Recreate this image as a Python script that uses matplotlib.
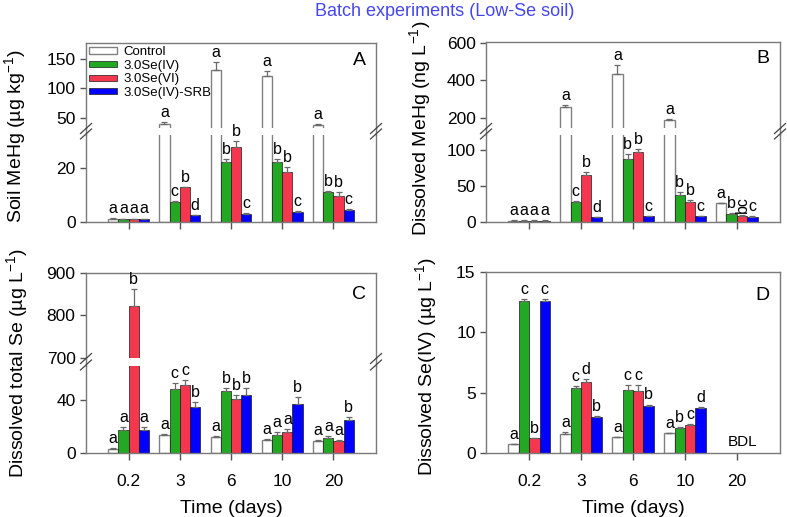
import numpy as np
import matplotlib
matplotlib.use("Agg")
import matplotlib.pyplot as plt
from matplotlib.lines import Line2D

plt.rcParams['font.family'] = ['Liberation Sans', 'DejaVu Sans']
plt.rcParams['mathtext.fontset'] = 'custom'
plt.rcParams['mathtext.rm'] = 'Liberation Sans'
plt.rcParams['mathtext.it'] = 'Liberation Sans:italic'

days = ['0.2', '3', '6', '10', '20']
series = ['Control', '3.0Se(IV)', '3.0Se(VI)', '3.0Se(IV)-SRB']

# panel A - soil MeHg
a_vals = [[1.3, 40, 132, 122, 38],
          [1.2, 7.4, 22.2, 22.2, 11.1],
          [1.2, 12.9, 28.1, 18.5, 9.7],
          [1.2, 2.5, 3.0, 3.85, 4.5]]
a_errs = [[0.1, 2, 13, 7, 2],
          [0.1, 0.3, 1.1, 1.2, 0.4],
          [0.1, 0.2, 2.0, 2.0, 1.3],
          [0.1, 0.2, 0.2, 0.2, 0.2]]
a_lets = [['a', 'a', 'a', 'a', 'a'],
          ['a', 'c', 'b', 'b', 'b'],
          ['a', 'b', 'b', 'b', 'b'],
          ['a', 'd', 'c', 'c', 'c']]

# panel B - dissolved MeHg
b_vals = [[2, 258, 435, 188, 26],
          [2, 28, 87, 37, 11],
          [2, 65, 98, 28.5, 9],
          [2, 7, 8.4, 8, 7.5]]
b_errs = [[0.5, 10, 45, 5, 1],
          [0.3, 1, 8, 5, 1],
          [0.3, 5, 4, 2, 0.5],
          [0.3, 0.5, 0.5, 0.5, 0.5]]
b_lets = [['a', 'a', 'a', 'a', 'a'],
          ['a', 'c', 'b', 'b', 'b'],
          ['a', 'b', 'b', 'b', 'bc'],
          ['a', 'd', 'c', 'c', 'c']]

# panel C - dissolved total Se
c_vals = [[2.8, 13.7, 11.7, 9.6, 8.9],
          [17.2, 48.4, 46.8, 13.7, 11.4],
          [822, 51.2, 41, 15.5, 8.9],
          [17.2, 34.7, 43.8, 37.2, 25]]
c_errs = [[0.5, 0.5, 1, 0.5, 0.5],
          [2, 4.5, 2, 2, 1],
          [39, 4, 3, 2.5, 1],
          [2, 4, 5, 5, 2]]
c_lets = [['a', 'a', 'a', 'a', 'a'],
          ['a', 'c', 'b', 'a', 'a'],
          ['b', 'c', 'b', 'a', 'a'],
          ['a', 'b', 'b', 'b', 'b']]

# panel D - dissolved Se(IV), day 20 below detection limit
d_vals = [[0.7, 1.55, 1.28, 1.6, np.nan],
          [12.6, 5.4, 5.2, 2.05, np.nan],
          [1.2, 5.9, 5.1, 2.3, np.nan],
          [12.6, 2.97, 3.9, 3.7, np.nan]]
d_errs = [[0.05, 0.15, 0.03, 0.03, 0],
          [0.2, 0.12, 0.45, 0.1, 0],
          [0.05, 0.25, 0.5, 0.08, 0],
          [0.2, 0.1, 0.1, 0.1, 0]]
d_lets = [['a', 'a', 'a', 'a', ''],
          ['c', 'c', 'c', 'b', ''],
          ['b', 'd', 'c', 'c', ''],
          ['c', 'b', 'b', 'd', '']]

colors = ['white', '#22a822', '#f5364f', '#0000ff']
edges = ['#808080', '#1a1a1a', '#1a1a1a', '#1a1a1a']
W = 0.2
x = np.arange(len(days))
spine_c = '#7a7a7a'
TICK = 12.5
LET = 11.5


def style(ax):
    ax.patch.set_visible(False)
    for s in ax.spines.values():
        s.set_color(spine_c)
        s.set_linewidth(1.0)
    ax.tick_params(axis='y', direction='out', length=4, width=1, color='#555555',
                   labelsize=TICK, right=False)
    ax.tick_params(axis='x', direction='out', length=5, width=1, color='#555555',
                   top=False)
    ax.set_xlim(-0.83, 4.83)


def draw_bars(ax, vals, errs):
    for i in range(4):
        xs = x + (i - 1.5) * W
        v = np.array(vals[i], dtype=float)
        e = np.array(errs[i], dtype=float)
        ax.bar(xs, v, W, color=colors[i], edgecolor=edges[i],
               linewidth=1.0 if i == 0 else 0.5, label=series[i], zorder=2)
        ax.errorbar(xs, v, yerr=[np.zeros_like(e), e], fmt='none', ecolor='#6a6a6a',
                    elinewidth=0.9, capsize=2.5, capthick=0.9, zorder=3)


def put_letters(axes_list, vals, errs, lets):
    # axes_list sorted low -> high; choose axis by where the bar top lands
    for i in range(4):
        for j in range(len(days)):
            t = lets[i][j]
            if not t:
                continue
            top = vals[i][j] + errs[i][j]
            ax = axes_list[0]
            for a in axes_list:
                lo, hi = a.get_ylim()
                if top >= lo:
                    ax = a
            rot = 90 if len(t) > 1 else 0
            ax.annotate(t, (x[j] + (i - 1.5) * W, top), xytext=(0, 1.5),
                        textcoords='offset points', ha='center', va='bottom',
                        fontsize=LET, rotation=rot, zorder=4, annotation_clip=False)


def broken(fig, left, width, lo_box, hi_box, lo_lim, hi_lim, lo_ticks, hi_ticks,
           vals, errs, lets):
    ax_lo = fig.add_axes([left, lo_box[0], width, lo_box[1]])
    ax_hi = fig.add_axes([left, hi_box[0], width, hi_box[1]])
    for ax, lim, tk in ((ax_lo, lo_lim, lo_ticks), (ax_hi, hi_lim, hi_ticks)):
        style(ax)
        draw_bars(ax, vals, errs)
        ax.set_ylim(*lim)
        ax.set_yticks(tk)
    ax_lo.set_zorder(2)
    ax_lo.spines['top'].set_visible(False)
    ax_hi.spines['bottom'].set_visible(False)
    ax_hi.tick_params(axis='x', bottom=False, labelbottom=False)
    ax_lo.set_xticks(x)
    # join spines across the gap and draw the break marks
    y0 = lo_box[0] + lo_box[1]
    y1 = hi_box[0]
    for xx in (left, left + width):
        fig.add_artist(Line2D([xx, xx], [y0, y1], color=spine_c, lw=1.0))
        for yy in (y0 + 1.0 / 517, y1 - 0.5 / 517):
            dx, dy = 5.5 / 787, 5.0 / 517
            fig.add_artist(Line2D([xx - dx, xx + dx], [yy - dy, yy + dy],
                                  color='#444444', lw=0.9))
    put_letters([ax_lo, ax_hi], vals, errs, lets)
    return ax_lo, ax_hi


fig = plt.figure(figsize=(7.87, 5.17), dpi=100)

LA, WA = 86 / 787, 290 / 787
LB, WB = 486 / 787, 294 / 787

# A
a_lo, a_hi = broken(fig, LA, WA, (0.5706, 0.1683), (0.7524, 0.1644),
                    (0, 32.4), (32.5, 177.5), [0, 20], [50, 100, 150],
                    a_vals, a_errs, a_lets)
a_lo.set_xticklabels([])
a_hi.legend(loc='upper left', bbox_to_anchor=(0.0, 1.0), frameon=False,
            fontsize=9.5, handlelength=2.1, handleheight=0.35, handletextpad=0.5,
            labelspacing=0.12, borderaxespad=0.0, borderpad=0.25)
a_hi.text(0.965, 0.9, 'A', transform=a_hi.transAxes, ha='right', va='top', fontsize=14)

# B
b_lo, b_hi = broken(fig, LB, WB, (0.5706, 0.1683), (0.7524, 0.1669),
                    (0, 121), (145, 605), [0, 50, 100], [200, 400, 600],
                    b_vals, b_errs, b_lets)
b_lo.set_xticklabels([])
b_hi.text(0.965, 0.9, 'B', transform=b_hi.transAxes, ha='right', va='top', fontsize=14)

# C
c_lo, c_hi = broken(fig, LA, WA, (0.1244, 0.1677), (0.3075, 0.165),
                    (0, 65.8), (699, 900), [0, 40], [700, 800, 900],
                    c_vals, c_errs, c_lets)
c_lo.set_xticklabels(days, fontsize=TICK)
c_lo.tick_params(axis='x', pad=10)
c_lo.set_xlabel('Time (days)', fontsize=14, labelpad=8)
c_hi.text(0.965, 0.84, 'C', transform=c_hi.transAxes, ha='right', va='top', fontsize=14)

# D
d_ax = fig.add_axes([LB, 0.1244, WB, 0.349])
style(d_ax)
draw_bars(d_ax, d_vals, d_errs)
d_ax.set_ylim(0, 15)
d_ax.set_yticks([0, 5, 10, 15])
d_ax.set_xticks(x)
d_ax.set_xticklabels(days, fontsize=TICK)
d_ax.tick_params(axis='x', pad=10)
d_ax.set_xlabel('Time (days)', fontsize=14, labelpad=8)
put_letters([d_ax], d_vals, d_errs, d_lets)
d_ax.text(x[4] + 0.1, 0.3, 'BDL', ha='center', va='bottom', fontsize=11)
d_ax.text(0.965, 0.92, 'D', transform=d_ax.transAxes, ha='right', va='top', fontsize=14)

# y labels
fig.text(15 / 787, 1 - 136 / 517, 'Soil MeHg (µg kg$^{-1}$)', rotation=90,
         ha='center', va='center', fontsize=14)
fig.text(420 / 787, 1 - 128 / 517, 'Dissolved MeHg (ng L$^{-1}$)', rotation=90,
         ha='center', va='center', fontsize=14)
fig.text(17 / 787, 1 - 363 / 517, 'Dissolved total Se (µg L$^{-1}$)', rotation=90,
         ha='center', va='center', fontsize=14)
fig.text(426 / 787, 1 - 366 / 517, 'Dissolved Se(IV) (µg L$^{-1}$)', rotation=90,
         ha='center', va='center', fontsize=14)

fig.text(445 / 787, 1 - 11 / 517, 'Batch experiments (Low-Se soil)', ha='center',
         va='center', fontsize=13, color='#4646f0')

fig.savefig('out.png', dpi=100)
